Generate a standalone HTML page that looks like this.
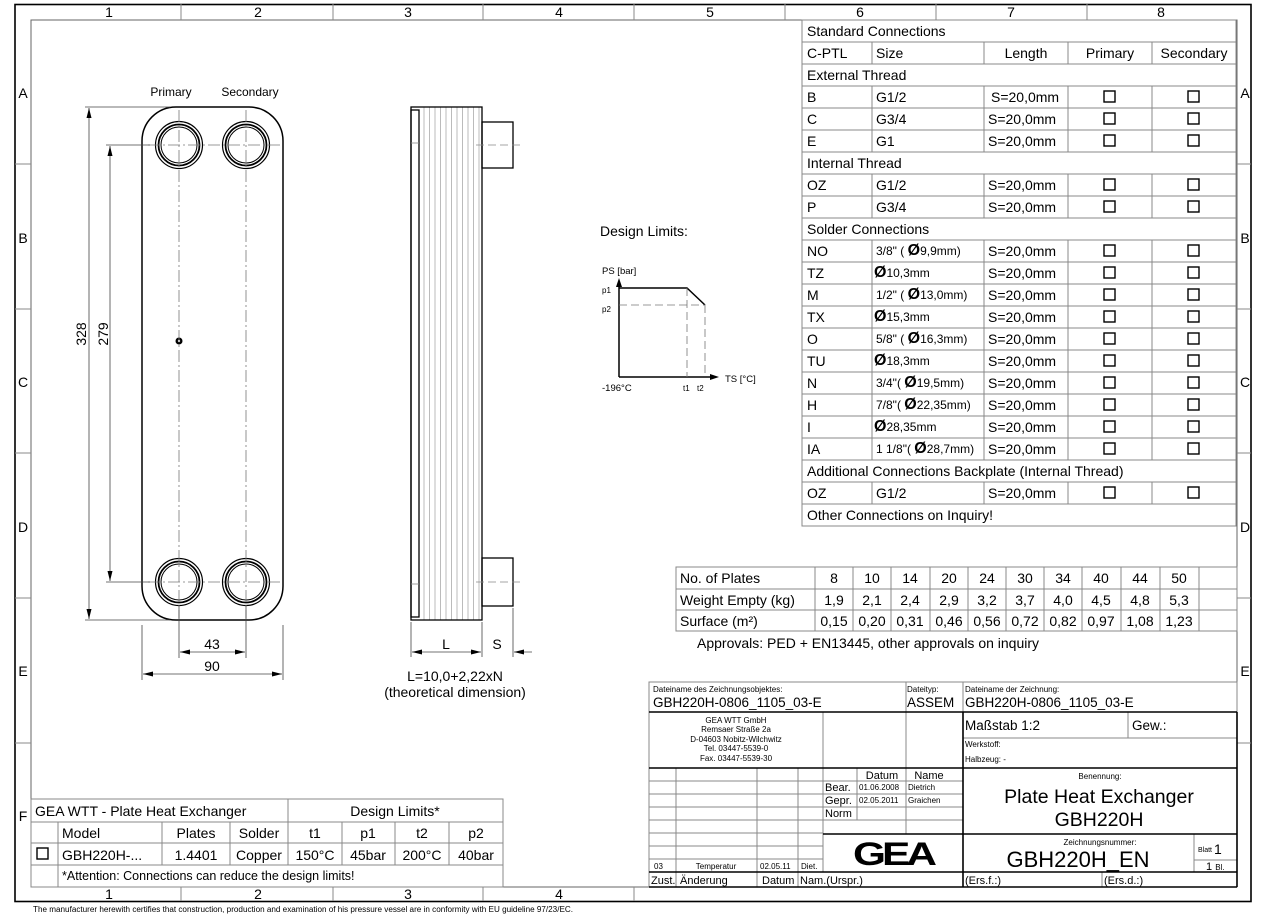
<!DOCTYPE html>
<html><head><meta charset="utf-8"><style>
html,body{margin:0;padding:0;background:#fff}
svg{display:block;font-family:"Liberation Sans",sans-serif}
</style></head><body>
<svg width="1268" height="916" viewBox="0 0 1268 916" xmlns="http://www.w3.org/2000/svg">
<defs>
<marker id="ar" viewBox="0 0 10 6" refX="10" refY="3" markerWidth="10" markerHeight="6" orient="auto-start-reverse" markerUnits="userSpaceOnUse"><path d="M0,0.5 L10,3 L0,5.5z" fill="#000"/></marker>
</defs>
<rect width="1268" height="916" fill="#fff"/>
<rect x="15" y="4.5" width="1236" height="897" fill="none" stroke="#000" stroke-width="1.6"/>
<rect x="31" y="20" width="1206" height="867" fill="none" stroke="#666" stroke-width="1"/>
<g stroke="#888" stroke-width="1">
<line x1="181" y1="4" x2="181" y2="20"/><line x1="333" y1="4" x2="333" y2="20"/><line x1="483" y1="4" x2="483" y2="20"/><line x1="634" y1="4" x2="634" y2="20"/><line x1="785" y1="4" x2="785" y2="20"/><line x1="936" y1="4" x2="936" y2="20"/><line x1="1087" y1="4" x2="1087" y2="20"/>
<line x1="181" y1="887" x2="181" y2="901"/><line x1="333" y1="887" x2="333" y2="901"/><line x1="483" y1="887" x2="483" y2="901"/><line x1="634" y1="887" x2="634" y2="901"/>
<line x1="15" y1="164" x2="31" y2="164"/><line x1="15" y1="309" x2="31" y2="309"/><line x1="15" y1="453" x2="31" y2="453"/><line x1="15" y1="598" x2="31" y2="598"/><line x1="15" y1="743" x2="31" y2="743"/>
<line x1="1237" y1="164" x2="1251" y2="164"/><line x1="1237" y1="309" x2="1251" y2="309"/><line x1="1237" y1="453" x2="1251" y2="453"/><line x1="1237" y1="598" x2="1251" y2="598"/><line x1="1237" y1="743" x2="1251" y2="743"/>
</g>
<g font-size="14" text-anchor="middle">
<text x="109" y="17">1</text><text x="258" y="17">2</text><text x="408" y="17">3</text><text x="559" y="17">4</text><text x="710" y="17">5</text><text x="860" y="17">6</text><text x="1011" y="17">7</text><text x="1161" y="17">8</text>
<text x="109" y="899">1</text><text x="258" y="899">2</text><text x="408" y="899">3</text><text x="559" y="899">4</text>
<text x="23" y="98">A</text><text x="23" y="243">B</text><text x="23" y="387">C</text><text x="23" y="532">D</text><text x="23" y="676">E</text><text x="23" y="821">F</text>
<text x="1245" y="98">A</text><text x="1245" y="243">B</text><text x="1245" y="387">C</text><text x="1245" y="532">D</text><text x="1245" y="676">E</text>
</g>
<text x="33" y="912" font-size="8" textLength="540" lengthAdjust="spacingAndGlyphs">The manufacturer herewith certifies that construction, production and examination of his pressure vessel are in conformity with EU guideline 97/23/EC.</text>

<rect x="142" y="107" width="141" height="513" rx="34" ry="34" fill="none" stroke="#000" stroke-width="1.5"/>
<g fill="none" stroke="#000">
<circle cx="179" cy="145" r="23.5" stroke-width="1.2"/><circle cx="179" cy="145" r="20.5" stroke-width="1.8"/><circle cx="179" cy="145" r="18" stroke-width="1"/>
<circle cx="246" cy="145" r="23.5" stroke-width="1.2"/><circle cx="246" cy="145" r="20.5" stroke-width="1.8"/><circle cx="246" cy="145" r="18" stroke-width="1"/>
<circle cx="179" cy="582" r="23.5" stroke-width="1.2"/><circle cx="179" cy="582" r="20.5" stroke-width="1.8"/><circle cx="179" cy="582" r="18" stroke-width="1"/>
<circle cx="246" cy="582" r="23.5" stroke-width="1.2"/><circle cx="246" cy="582" r="20.5" stroke-width="1.8"/><circle cx="246" cy="582" r="18" stroke-width="1"/>
</g>
<circle cx="179" cy="341" r="3.5" fill="#000"/><circle cx="179" cy="341" r="1.2" fill="#fff"/>
<g stroke="#777" stroke-width="0.8" stroke-dasharray="12 3 2 3" fill="none">
<line x1="179" y1="110" x2="179" y2="618"/><line x1="246" y1="110" x2="246" y2="618"/>
<line x1="148" y1="145" x2="280" y2="145"/><line x1="148" y1="582" x2="280" y2="582"/>
</g>
<g stroke="#444" stroke-width="0.8" fill="none">
<line x1="85" y1="107" x2="170" y2="107"/><line x1="85" y1="620" x2="170" y2="620"/>
<line x1="106" y1="145" x2="150" y2="145"/><line x1="106" y1="582" x2="150" y2="582"/>
<line x1="89" y1="108" x2="89" y2="619" marker-start="url(#ar)" marker-end="url(#ar)"/>
<line x1="110" y1="146" x2="110" y2="581" marker-start="url(#ar)" marker-end="url(#ar)"/>
<line x1="179" y1="606" x2="179" y2="658"/><line x1="246" y1="606" x2="246" y2="658"/>
<line x1="142" y1="625" x2="142" y2="680"/><line x1="283" y1="625" x2="283" y2="680"/>
<line x1="180" y1="652" x2="245" y2="652" marker-start="url(#ar)" marker-end="url(#ar)"/>
<line x1="143" y1="674" x2="282" y2="674" marker-start="url(#ar)" marker-end="url(#ar)"/>
</g>
<g font-size="14" text-anchor="middle">
<text x="212" y="649">43</text><text x="212" y="671">90</text>
<text transform="translate(86,334) rotate(-90)">328</text>
<text transform="translate(108,334) rotate(-90)">279</text>
</g>
<text x="171" y="96" font-size="12" text-anchor="middle">Primary</text>
<text x="250" y="96" font-size="12" text-anchor="middle">Secondary</text>

<g stroke="#aaa" stroke-width="0.8">
<line x1="424" y1="107" x2="424" y2="620"/><line x1="429.5" y1="107" x2="429.5" y2="620"/><line x1="435" y1="107" x2="435" y2="620"/><line x1="440.5" y1="107" x2="440.5" y2="620"/><line x1="446" y1="107" x2="446" y2="620"/><line x1="451.5" y1="107" x2="451.5" y2="620"/><line x1="457" y1="107" x2="457" y2="620"/><line x1="462.5" y1="107" x2="462.5" y2="620"/><line x1="468" y1="107" x2="468" y2="620"/><line x1="473.5" y1="107" x2="473.5" y2="620"/><line x1="479" y1="107" x2="479" y2="620"/>
</g>
<g fill="none" stroke="#000" stroke-width="1.3">
<rect x="411" y="107" width="71" height="513"/>
<rect x="411" y="110" width="8" height="507"/>
<rect x="482" y="122" width="31" height="46"/>
<rect x="482" y="558" width="31" height="48"/>
</g>
<g stroke="#888" stroke-width="0.8">
<line x1="411" y1="143" x2="419" y2="143"/><line x1="411" y1="584" x2="419" y2="584"/>
<line x1="476" y1="145" x2="522" y2="145" stroke-dasharray="8 4"/><line x1="476" y1="582" x2="522" y2="582" stroke-dasharray="8 4"/>
</g>
<g stroke="#444" stroke-width="0.8" fill="none">
<line x1="411" y1="622" x2="411" y2="657"/><line x1="482" y1="622" x2="482" y2="657"/><line x1="513" y1="608" x2="513" y2="657"/>
<line x1="412" y1="652" x2="481" y2="652" marker-start="url(#ar)" marker-end="url(#ar)"/>
<line x1="532" y1="652" x2="514" y2="652" marker-end="url(#ar)"/>
</g>
<g font-size="14" text-anchor="middle">
<text x="446" y="649">L</text><text x="497" y="649">S</text>
<text x="455" y="681">L=10,0+2,22xN</text>
<text x="455" y="697">(theoretical dimension)</text>
</g>

<text x="600" y="236" font-size="14">Design Limits:</text>
<g font-size="9.5"><text x="602" y="274">PS [bar]</text><text x="725" y="382">TS [°C]</text><text x="602" y="391">-196°C</text><text x="683" y="391" font-size="8">t1</text><text x="697" y="391" font-size="8">t2</text><text x="602" y="293" font-size="8">p1</text><text x="602" y="312" font-size="8">p2</text></g>
<g stroke="#000" stroke-width="1.5" fill="none">
<line x1="619" y1="377" x2="619" y2="284"/><line x1="619" y1="377" x2="712" y2="377"/>
<polyline points="619,288 687,288 705,305"/>
</g>
<path d="M619,278 L616,287 L622,287z M719,377 L710,374 L710,380z" fill="#000"/>
<g stroke="#777" stroke-width="0.8" stroke-dasharray="8 4" fill="none">
<line x1="619" y1="305" x2="705" y2="305"/><line x1="687" y1="288" x2="687" y2="377"/><line x1="705" y1="305" x2="705" y2="377"/>
</g>

<g stroke="#888" stroke-width="1" fill="none">
<rect x="802" y="20" width="434" height="506"/>
<line x1="802" y1="42" x2="1236" y2="42"/><line x1="802" y1="64" x2="1236" y2="64"/><line x1="802" y1="86" x2="1236" y2="86"/><line x1="802" y1="108" x2="1236" y2="108"/><line x1="802" y1="130" x2="1236" y2="130"/><line x1="802" y1="152" x2="1236" y2="152"/><line x1="802" y1="174" x2="1236" y2="174"/><line x1="802" y1="196" x2="1236" y2="196"/><line x1="802" y1="218" x2="1236" y2="218"/><line x1="802" y1="240" x2="1236" y2="240"/><line x1="802" y1="262" x2="1236" y2="262"/><line x1="802" y1="284" x2="1236" y2="284"/><line x1="802" y1="306" x2="1236" y2="306"/><line x1="802" y1="328" x2="1236" y2="328"/><line x1="802" y1="350" x2="1236" y2="350"/><line x1="802" y1="372" x2="1236" y2="372"/><line x1="802" y1="394" x2="1236" y2="394"/><line x1="802" y1="416" x2="1236" y2="416"/><line x1="802" y1="438" x2="1236" y2="438"/><line x1="802" y1="460" x2="1236" y2="460"/><line x1="802" y1="482" x2="1236" y2="482"/><line x1="802" y1="504" x2="1236" y2="504"/>
<path d="M872,42V64M984,42V64M1068,42V64M1152,42V64"/>
<path d="M872,86V152M984,86V152M1068,86V152M1152,86V152"/>
<path d="M872,174V218M984,174V218M1068,174V218M1152,174V218"/>
<path d="M872,240V460M984,240V460M1068,240V460M1152,240V460"/>
<path d="M872,482V504M984,482V504M1068,482V504M1152,482V504"/>
</g>
<g fill="none" stroke="#000" stroke-width="1.4">
<rect x="1104" y="91" width="11" height="11"/><rect x="1188" y="91" width="11" height="11"/>
<rect x="1104" y="113" width="11" height="11"/><rect x="1188" y="113" width="11" height="11"/>
<rect x="1104" y="135" width="11" height="11"/><rect x="1188" y="135" width="11" height="11"/>
<rect x="1104" y="179" width="11" height="11"/><rect x="1188" y="179" width="11" height="11"/>
<rect x="1104" y="201" width="11" height="11"/><rect x="1188" y="201" width="11" height="11"/>
<rect x="1104" y="245" width="11" height="11"/><rect x="1188" y="245" width="11" height="11"/>
<rect x="1104" y="267" width="11" height="11"/><rect x="1188" y="267" width="11" height="11"/>
<rect x="1104" y="289" width="11" height="11"/><rect x="1188" y="289" width="11" height="11"/>
<rect x="1104" y="311" width="11" height="11"/><rect x="1188" y="311" width="11" height="11"/>
<rect x="1104" y="333" width="11" height="11"/><rect x="1188" y="333" width="11" height="11"/>
<rect x="1104" y="355" width="11" height="11"/><rect x="1188" y="355" width="11" height="11"/>
<rect x="1104" y="377" width="11" height="11"/><rect x="1188" y="377" width="11" height="11"/>
<rect x="1104" y="399" width="11" height="11"/><rect x="1188" y="399" width="11" height="11"/>
<rect x="1104" y="421" width="11" height="11"/><rect x="1188" y="421" width="11" height="11"/>
<rect x="1104" y="443" width="11" height="11"/><rect x="1188" y="443" width="11" height="11"/>
<rect x="1104" y="487" width="11" height="11"/><rect x="1188" y="487" width="11" height="11"/>
</g>
<g font-size="14">
<text x="807" y="36">Standard Connections</text>
<text x="807" y="58">C-PTL</text><text x="876" y="58">Size</text><text x="1026" y="58" text-anchor="middle">Length</text><text x="1110" y="58" text-anchor="middle">Primary</text><text x="1194" y="58" text-anchor="middle">Secondary</text>
<text x="807" y="80">External Thread</text>
<text x="807" y="102">B</text><text x="876" y="102">G1/2</text><text x="991" y="102">S=20,0mm</text>
<text x="807" y="124">C</text><text x="876" y="124">G3/4</text><text x="988" y="124">S=20,0mm</text>
<text x="807" y="146">E</text><text x="876" y="146">G1</text><text x="988" y="146">S=20,0mm</text>
<text x="807" y="168">Internal Thread</text>
<text x="807" y="190">OZ</text><text x="876" y="190">G1/2</text><text x="988" y="190">S=20,0mm</text>
<text x="807" y="212">P</text><text x="876" y="212">G3/4</text><text x="988" y="212">S=20,0mm</text>
<text x="807" y="234">Solder Connections</text>
<text x="807" y="256">NO</text><text x="807" y="278">TZ</text><text x="807" y="300">M</text><text x="807" y="322">TX</text><text x="807" y="344">O</text><text x="807" y="366">TU</text><text x="807" y="388">N</text><text x="807" y="410">H</text><text x="807" y="432">I</text><text x="807" y="454">IA</text>
<text x="988" y="256">S=20,0mm</text><text x="988" y="278">S=20,0mm</text><text x="988" y="300">S=20,0mm</text><text x="988" y="322">S=20,0mm</text><text x="988" y="344">S=20,0mm</text><text x="988" y="366">S=20,0mm</text><text x="988" y="388">S=20,0mm</text><text x="988" y="410">S=20,0mm</text><text x="988" y="432">S=20,0mm</text><text x="988" y="454">S=20,0mm</text>
<text x="807" y="476">Additional Connections Backplate (Internal Thread)</text>
<text x="807" y="498">OZ</text><text x="876" y="498">G1/2</text><text x="988" y="498">S=20,0mm</text>
<text x="807" y="520">Other Connections on Inquiry!</text>
</g>
<g font-size="12">
<text x="876" y="255">3/8" ( <tspan font-size="16" font-weight="bold">Ø</tspan>9,9mm)</text>
<text x="874" y="277"><tspan font-size="16" font-weight="bold">Ø</tspan>10,3mm</text>
<text x="876" y="299">1/2" ( <tspan font-size="16" font-weight="bold">Ø</tspan>13,0mm)</text>
<text x="874" y="321"><tspan font-size="16" font-weight="bold">Ø</tspan>15,3mm</text>
<text x="876" y="343">5/8" ( <tspan font-size="16" font-weight="bold">Ø</tspan>16,3mm)</text>
<text x="874" y="365"><tspan font-size="16" font-weight="bold">Ø</tspan>18,3mm</text>
<text x="876" y="387">3/4"( <tspan font-size="16" font-weight="bold">Ø</tspan>19,5mm)</text>
<text x="876" y="409">7/8"( <tspan font-size="16" font-weight="bold">Ø</tspan>22,35mm)</text>
<text x="874" y="431"><tspan font-size="16" font-weight="bold">Ø</tspan>28,35mm</text>
<text x="876" y="453">1 1/8"( <tspan font-size="16" font-weight="bold">Ø</tspan>28,7mm)</text>
</g>

<g stroke="#888" stroke-width="1" fill="none">
<rect x="676" y="567" width="561" height="64"/>
<line x1="676" y1="589" x2="1237" y2="589"/><line x1="676" y1="610" x2="1237" y2="610"/>
<path d="M815,567V631M853,567V631M891,567V631M930,567V631M968,567V631M1006,567V631M1044,567V631M1082,567V631M1121,567V631M1160,567V631M1199,567V631"/>
</g>
<g font-size="14">
<text x="680" y="583">No. of Plates</text><text x="680" y="605">Weight Empty (kg)</text><text x="680" y="626">Surface (m²)</text>
</g>
<g font-size="14" text-anchor="middle">
<text x="834" y="583">8</text><text x="872" y="583">10</text><text x="910" y="583">14</text><text x="949" y="583">20</text><text x="987" y="583">24</text><text x="1025" y="583">30</text><text x="1063" y="583">34</text><text x="1101" y="583">40</text><text x="1140" y="583">44</text><text x="1179" y="583">50</text>
<text x="834" y="605">1,9</text><text x="872" y="605">2,1</text><text x="910" y="605">2,4</text><text x="949" y="605">2,9</text><text x="987" y="605">3,2</text><text x="1025" y="605">3,7</text><text x="1063" y="605">4,0</text><text x="1101" y="605">4,5</text><text x="1140" y="605">4,8</text><text x="1179" y="605">5,3</text>
<text x="834" y="626">0,15</text><text x="872" y="626">0,20</text><text x="910" y="626">0,31</text><text x="949" y="626">0,46</text><text x="987" y="626">0,56</text><text x="1025" y="626">0,72</text><text x="1063" y="626">0,82</text><text x="1101" y="626">0,97</text><text x="1140" y="626">1,08</text><text x="1179" y="626">1,23</text>
</g>
<text x="697" y="648" font-size="14">Approvals: PED + EN13445, other approvals on inquiry</text>

<g stroke="#888" stroke-width="1" fill="none">
<rect x="31" y="799" width="472" height="88"/>
<line x1="31" y1="822" x2="503" y2="822"/><line x1="31" y1="843" x2="503" y2="843"/><line x1="31" y1="865" x2="503" y2="865"/>
<line x1="288" y1="799" x2="288" y2="865"/>
<path d="M58,822V887M162,822V865M230,822V865M342,822V865M395,822V865M449,822V865"/>
</g>
<rect x="37" y="848" width="11" height="11" fill="none" stroke="#000" stroke-width="1.4"/>
<g font-size="14">
<text x="35" y="816">GEA WTT - Plate Heat Exchanger</text>
<text x="395" y="816" text-anchor="middle">Design Limits*</text>
<text x="62" y="838">Model</text><text x="196" y="838" text-anchor="middle">Plates</text><text x="259" y="838" text-anchor="middle">Solder</text><text x="315" y="838" text-anchor="middle">t1</text><text x="368" y="838" text-anchor="middle">p1</text><text x="422" y="838" text-anchor="middle">t2</text><text x="476" y="838" text-anchor="middle">p2</text>
<text x="62" y="860">GBH220H-...</text><text x="196" y="860" text-anchor="middle">1.4401</text><text x="259" y="860" text-anchor="middle">Copper</text><text x="315" y="860" text-anchor="middle">150°C</text><text x="368" y="860" text-anchor="middle">45bar</text><text x="422" y="860" text-anchor="middle">200°C</text><text x="476" y="860" text-anchor="middle">40bar</text>
</g>
<text x="62" y="880" font-size="12.5">*Attention: Connections can reduce the design limits!</text>

<g stroke="#888" stroke-width="1" fill="none">
<rect x="649" y="682" width="588" height="205"/>
<line x1="906" y1="682" x2="906" y2="712"/><line x1="963" y1="682" x2="963" y2="712"/>
<path d="M823,712V872M906,712V834M649,781H823M649,794H823M649,807H823M649,820H823M649,833H823M649,846H823M649,859H823M676,768V887M757,768V887M798,768V887"/>
<path d="M823,781H963M823,794H963M823,807H963M823,820H963M857,768V820"/>
<path d="M963,738H1237M1128,712V738M1194,834V872M1194,860H1237M1102,872V887"/>
</g>
<g stroke="#000" stroke-width="1.6" fill="none">
<line x1="649" y1="712" x2="1237" y2="712"/><line x1="649" y1="768" x2="1237" y2="768"/>
<line x1="963" y1="712" x2="963" y2="887"/><line x1="823" y1="834" x2="1237" y2="834"/>
<line x1="649" y1="872" x2="1237" y2="872"/><line x1="649" y1="887" x2="1237" y2="887"/><line x1="1237" y1="712" x2="1237" y2="887"/>
</g>
<g font-size="8">
<text x="653" y="692">Dateiname des Zeichnungsobjektes:</text>
<text x="907" y="692">Dateityp:</text>
<text x="965" y="692">Dateiname der Zeichnung:</text>
<text x="965" y="747">Werkstoff:</text>
<text x="965" y="762">Halbzeug: -</text>
<text x="1100" y="779" text-anchor="middle">Benennung:</text>
<text x="1100" y="845" text-anchor="middle">Zeichnungsnummer:</text>
<text x="1198" y="852" font-size="7">Blatt</text>
<g text-anchor="middle"><text x="736" y="723">GEA WTT GmbH</text><text x="736" y="732">Remsaer Straße 2a</text><text x="736" y="742">D-04603 Nobitz-Wilchwitz</text><text x="736" y="751">Tel. 03447-5539-0</text><text x="736" y="761">Fax. 03447-5539-30</text></g>
<text x="859" y="790">01.06.2008</text><text x="908" y="790">Dietrich</text>
<text x="859" y="803">02.05.2011</text><text x="908" y="803">Graichen</text>
<text x="654" y="869">03</text><text x="716" y="869" text-anchor="middle">Temperatur</text><text x="760" y="869">02.05.11</text><text x="801" y="869">Diet.</text>
</g>
<g font-size="13.5">
<text x="653" y="707">GBH220H-0806_1105_03-E</text>
<text x="907" y="707">ASSEM</text>
<text x="965" y="707">GBH220H-0806_1105_03-E</text>
<text x="965" y="730">Maßstab 1:2</text><text x="1132" y="730">Gew.:</text>
</g>
<g font-size="11">
<text x="882" y="779" text-anchor="middle">Datum</text><text x="929" y="779" text-anchor="middle">Name</text>
<text x="825" y="791">Bear.</text><text x="825" y="804">Gepr.</text><text x="825" y="817">Norm</text>
<text x="651" y="884">Zust.</text><text x="680" y="884">Änderung</text><text x="762" y="884">Datum</text><text x="800" y="884">Nam.(Urspr.)</text>
<text x="965" y="884">(Ers.f.:)</text><text x="1104" y="884">(Ers.d.:)</text>
<text x="1206" y="870">1  <tspan font-size="8">Bl.</tspan></text>
</g>
<text x="1214" y="854" font-size="14">1</text>
<text x="1099" y="803" font-size="19.5" text-anchor="middle">Plate Heat Exchanger</text>
<text x="1099" y="826" font-size="19.5" text-anchor="middle">GBH220H</text>
<text x="1078" y="867" font-size="22" text-anchor="middle">GBH220H_EN</text>
<text x="853" y="865" font-size="32" font-weight="bold" letter-spacing="-3" textLength="80" lengthAdjust="spacingAndGlyphs">GEA</text>
</svg>
</body></html>
